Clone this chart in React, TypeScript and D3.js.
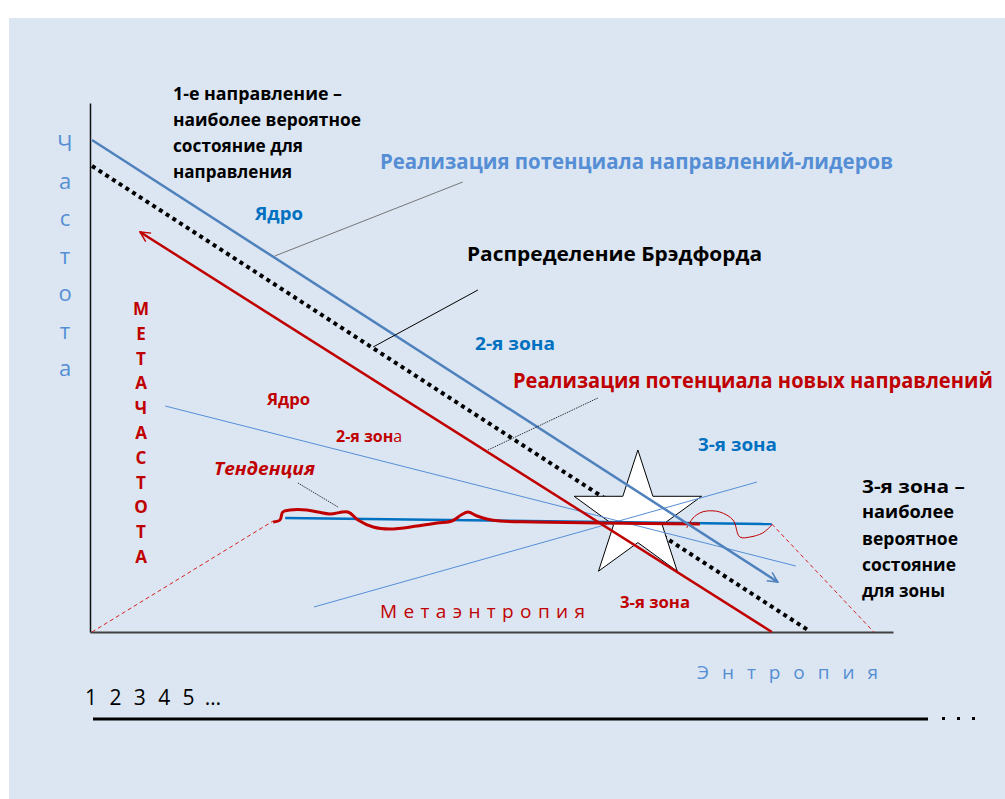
import React, { useEffect, useRef } from "react";
import * as d3 from "d3";

// all points are [entropy, frequency] in chart units
const leaders = [[0.25, 98.4], [86, 10]];
const bradford = [[0.25, 93.2], [89.75, 0.4]];
const newDirections = [[6.25, 80], [85.25, 0]];
const coreRay = [[9.4, 45.2], [88.25, 13.2]];
const zoneRay = [[28, 5], [83.4, 30]];
const tendencyBase = [[24.4, 22.8], [85.25, 21.6]];
const metaLeft = [[0.25, 0], [22.9, 22.2]];
const metaRight = [[85.25, 21.6], [98, 0]];

const tendency = [
  [22.9, 22], [23.75, 22.4], [24.1, 24], [25, 24.4], [27.1, 24.4], [28.5, 24],
  [30, 23.6], [32.25, 24], [33.5, 22.4], [35.4, 21], [37.5, 20.6], [40.9, 21.2],
  [43.4, 21.8], [45.25, 22.2], [46.4, 23.4], [47.25, 24], [48.4, 23.2], [49.6, 22.6],
  [51.25, 22.2], [55.4, 22], [63.75, 21.8], [76.25, 21.6],
];
const tendencyTail = [
  [74.6, 20.8], [75.4, 22.8], [76.25, 23.8], [77.1, 24.2], [78.75, 24], [80.4, 22.4],
  [81.25, 19], [82.5, 19], [84.1, 19.8], [85.25, 21.4],
];

const starCenter = [68.5, 23];
const starRadius = 13.4;

const calloutLeaders = [[23.1, 75.2], [46.6, 90]];
const calloutBradford = [[35.4, 57], [48.5, 68.4]];
const calloutNew = [[49.75, 36.4], [63.5, 46.8]];
const calloutTrend = [[26, 29.8], [31, 25]];

const ranks = ["1", "2", "3", "4", "5", "…"];
const yTitle = "Частота".split("");
const metaTitle = "МЕТАЧАСТОТА".split("");

const FONT = "'Open Sans', 'DejaVu Sans', sans-serif";

const App = () => {
  const ref = useRef(null);

  useEffect(() => {
    const svg = d3.select(ref.current);
    svg.selectAll("*").remove();

    const x = d3.scaleLinear().domain([0, 100.4]).range([90, 893]);
    const y = d3.scaleLinear().domain([0, 105.8]).range([632, 103]);
    const line = d3.line().x(d => x(d[0])).y(d => y(d[1]));
    const smooth = d3.line().x(d => x(d[0])).y(d => y(d[1])).curve(d3.curveCatmullRom);

    svg.append("rect").attr("width", 1005).attr("height", 799).attr("fill", "#ffffff");
    svg.append("rect").attr("x", 9).attr("y", 18).attr("width", 996).attr("height", 781).attr("fill", "#dce6f2");

    const defs = svg.append("defs");
    const marker = (id, color) => defs.append("marker")
      .attr("id", id).attr("viewBox", "0 0 10 10").attr("refX", 9).attr("refY", 5)
      .attr("markerWidth", 5).attr("markerHeight", 5).attr("orient", "auto-start-reverse")
      .attr("markerUnits", "strokeWidth")
      .append("path").attr("d", "M1,1 L9,5 L1,9").attr("fill", "none")
      .attr("stroke", color).attr("stroke-width", 1.2);
    marker("arrBlue", "#4f81bd");
    marker("arrRed", "#c00000");

    // axes
    svg.append("g").attr("transform", `translate(${x(0)},0)`)
      .call(d3.axisLeft(y).ticks(0).tickSizeOuter(0))
      .call(g => g.select(".domain").attr("stroke", "#111").attr("stroke-width", 1.5));
    svg.append("g").attr("transform", `translate(0,${y(0)})`)
      .call(d3.axisBottom(x).ticks(0).tickSizeOuter(0))
      .call(g => g.select(".domain").attr("stroke", "#404040").attr("stroke-width", 2));

    // Bradford dotted line under the star
    svg.append("path").attr("d", line(bradford)).attr("fill", "none")
      .attr("stroke", "#000").attr("stroke-width", 4).attr("stroke-dasharray", "4 4");

    // star
    const starPts = d3.range(10).map(i => [i * Math.PI / 5, (i % 2 ? 0.382 : 1) * (y(0) - y(starRadius))]);
    svg.append("path")
      .attr("d", d3.lineRadial().angle(d => d[0]).radius(d => d[1]).curve(d3.curveLinearClosed)(starPts))
      .attr("transform", `translate(${x(starCenter[0])},${y(starCenter[1])})`)
      .attr("fill", "#fff").attr("stroke", "#000").attr("stroke-width", 1);

    // thin rays
    [coreRay, zoneRay].forEach(d => svg.append("path").attr("d", line(d)).attr("fill", "none")
      .attr("stroke", "#558ed5").attr("stroke-width", 1));

    // dashed meta lines
    [metaLeft, metaRight].forEach(d => svg.append("path").attr("d", line(d)).attr("fill", "none")
      .attr("stroke", "#d42020").attr("stroke-width", 1).attr("stroke-dasharray", "4 3"));

    // tendency
    svg.append("path").attr("d", line(tendencyBase)).attr("fill", "none")
      .attr("stroke", "#0070c0").attr("stroke-width", 2.5);
    svg.append("path").attr("d", smooth(tendency)).attr("fill", "none")
      .attr("stroke", "#c00000").attr("stroke-width", 3).attr("stroke-linejoin", "round");
    svg.append("path").attr("d", smooth(tendencyTail)).attr("fill", "none")
      .attr("stroke", "#c00000").attr("stroke-width", 1);

    // main lines
    svg.append("path").attr("d", line(newDirections)).attr("fill", "none")
      .attr("stroke", "#c00000").attr("stroke-width", 2.5).attr("marker-start", "url(#arrRed)");
    svg.append("path").attr("d", line(leaders)).attr("fill", "none")
      .attr("stroke", "#4f81bd").attr("stroke-width", 2.5).attr("marker-end", "url(#arrBlue)");

    // callouts
    svg.append("path").attr("d", line(calloutLeaders)).attr("stroke", "#595959").attr("stroke-width", 0.8);
    svg.append("path").attr("d", line(calloutBradford)).attr("stroke", "#000").attr("stroke-width", 1);
    svg.append("path").attr("d", line(calloutNew)).attr("stroke", "#000").attr("stroke-width", 0.8)
      .attr("stroke-dasharray", "1.5 1");
    svg.append("path").attr("d", line(calloutTrend)).attr("stroke", "#000").attr("stroke-width", 0.8)
      .attr("stroke-dasharray", "1.5 1");

    // texts
    const text = (t, tx, ty, o = {}) => {
      const el = svg.append("text").attr("x", tx).attr("y", ty)
        .attr("font-family", FONT).attr("font-size", o.size || 17)
        .attr("font-weight", o.weight || "bold").attr("fill", o.color || "#000")
        .attr("text-anchor", o.anchor || "start").text(t);
      if (o.italic) el.attr("font-style", "italic");
      if (o.len) el.attr("textLength", o.len).attr("lengthAdjust", o.adjust || "spacingAndGlyphs");
      return el;
    };

    text("1-е направление –", 173, 100, { len: 169 });
    text("наиболее вероятное", 173, 126, { len: 188 });
    text("состояние для", 173, 152, { len: 130 });
    text("направления", 173, 178, { len: 119 });

    text("Ядро", 255, 220, { size: 18, color: "#0070c0", len: 48 });
    text("Реализация потенциала направлений-лидеров", 380, 169, { size: 22, color: "#558ed5", len: 513 });
    text("Распределение Брэдфорда", 467, 261, { size: 20, len: 295 });
    text("2-я зона", 475, 350, { size: 18, color: "#0070c0", len: 80 });

    // squeezed horizontally so it fits before the right edge
    const newTitle = text("Реализация потенциала новых направлений", 0, 0, { size: 22, color: "#c00000" });
    const natural = newTitle.node().getComputedTextLength() || 478;
    newTitle.attr("transform", `translate(513,388) scale(${480 / natural},1)`);

    text("3-я зона", 698, 451, { size: 18, color: "#0070c0", len: 79 });

    text("3-я зона –", 862, 493, { len: 103 });
    text("наиболее", 862, 518, { len: 92 });
    text("вероятное", 862, 545, { len: 96 });
    text("состояние", 862, 571, { len: 94 });
    text("для зоны", 862, 597, { len: 83 });

    text("Ядро", 267, 405, { size: 16, color: "#c00000", len: 43 });
    const z2 = text("", 336, 442, { size: 16, color: "#c00000" });
    z2.append("tspan").text("2-я зон");
    z2.append("tspan").attr("font-weight", "normal").text("а");
    text("Тенденция", 214, 475, { size: 18, color: "#c00000", italic: true, len: 101 });
    text("3-я зона", 620, 608, { size: 16, color: "#c00000", len: 70 });

    metaTitle.forEach((c, i) => text(c, 141, 315 + i * 24.8, { size: 17, color: "#c00000", anchor: "middle" }));
    yTitle.forEach((c, i) => text(c, 65, 151 + i * 37.5,
      { size: 22, weight: "normal", color: "#558ed5", anchor: "middle" }));

    text("Метаэнтропия", 380, 618, { size: 19, weight: "normal", color: "#c00000", len: 205, adjust: "spacing" });
    text("Энтропия", 697, 679, { size: 19, weight: "normal", color: "#558ed5", len: 181, adjust: "spacing" });

    // rank ticks and the ordinal line
    const rx = d3.scalePoint().domain(ranks).range([91, 213]);
    ranks.forEach(r => text(r, rx(r), 705, { size: 21, weight: "normal", anchor: "middle" }));
    svg.append("line").attr("x1", 93).attr("x2", 928).attr("y1", 719).attr("y2", 719)
      .attr("stroke", "#000").attr("stroke-width", 3);
    svg.selectAll(".dot").data([0, 1, 2]).enter().append("rect")
      .attr("x", d => 942 + d * 15).attr("y", 717).attr("width", 3).attr("height", 3).attr("fill", "#000");
  }, []);

  return <svg ref={ref} width={1005} height={799} style={{ position: "absolute", left: 0, top: 0 }}></svg>;
};

export default App;
